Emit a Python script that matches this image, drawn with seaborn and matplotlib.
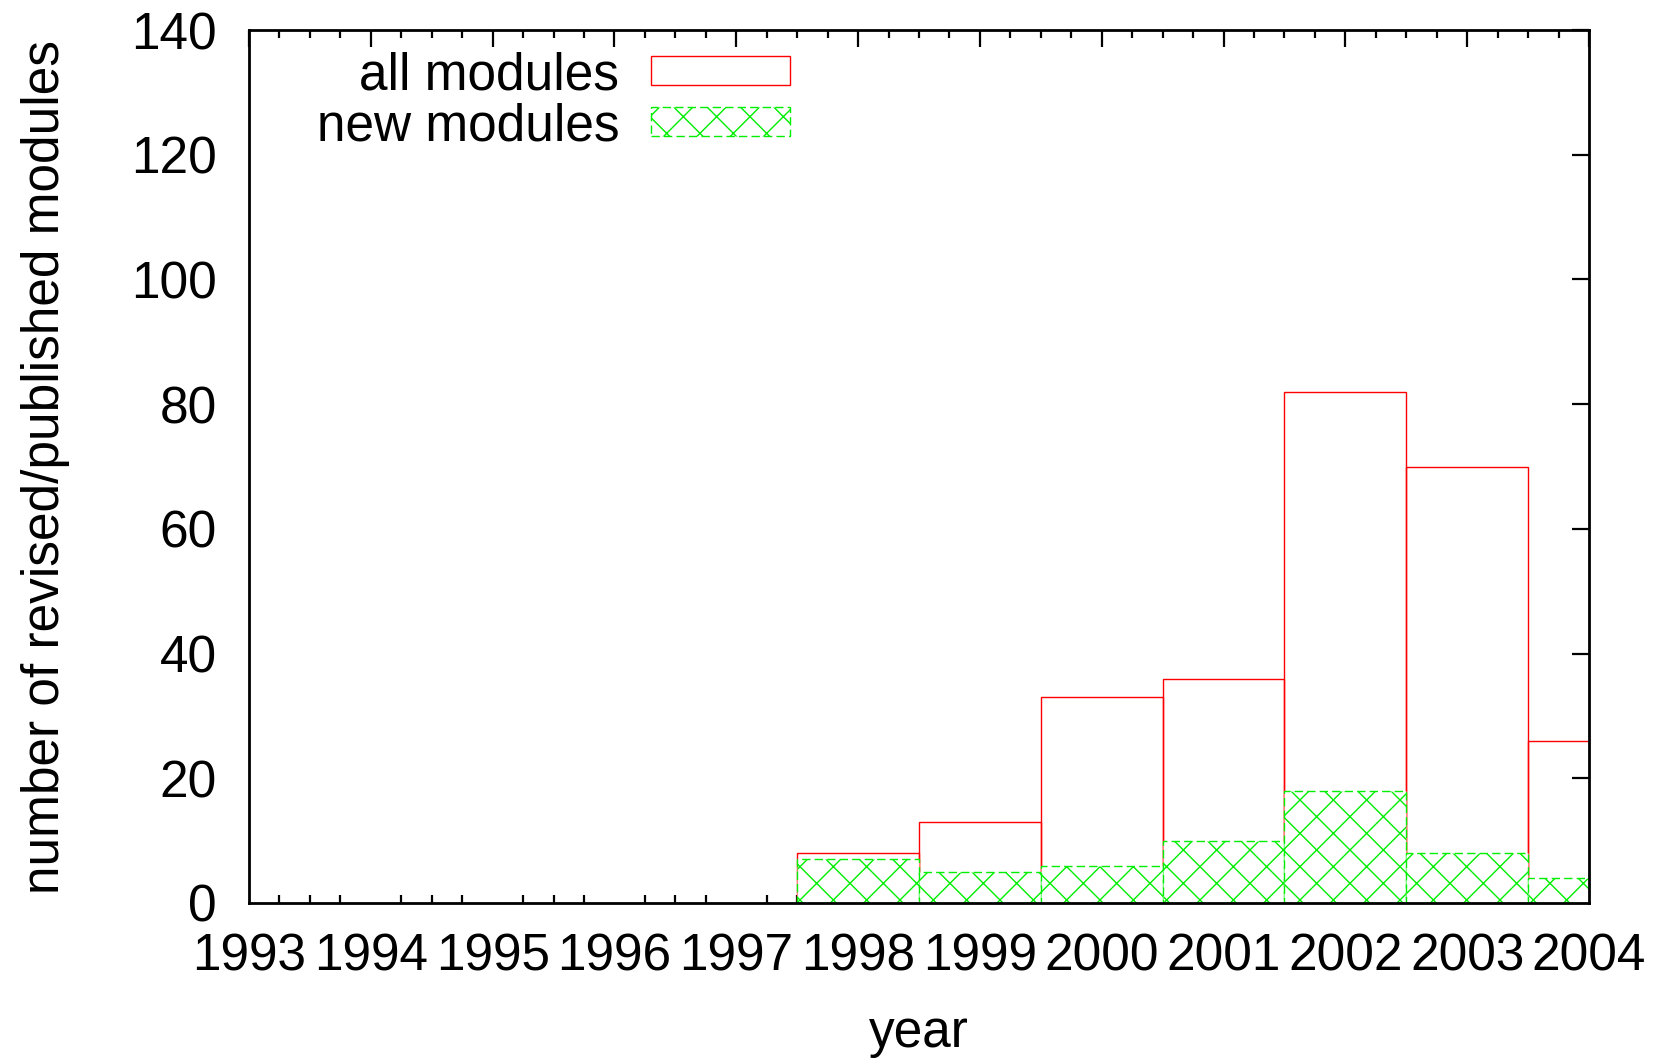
import matplotlib
matplotlib.use("Agg")
import matplotlib.pyplot as plt
from matplotlib.ticker import MultipleLocator
import seaborn as sns
import pandas as pd

years = [1998, 1999, 2000, 2001, 2002, 2003, 2004]
all_modules = [8, 13, 33, 36, 82, 70, 26]
new_modules = [7, 5, 6, 10, 18, 8, 4]
y_ticks = [0, 20, 40, 60, 80, 100, 120, 140]
x_ticks = list(range(1993, 2005))

sns.set_theme(style="white")
plt.rcParams['font.family'] = ['Liberation Sans', 'DejaVu Sans']
plt.rcParams['hatch.linewidth'] = 1.0
plt.rcParams['text.color'] = 'black'
plt.rcParams['axes.labelcolor'] = 'black'
plt.rcParams['xtick.color'] = 'black'
plt.rcParams['ytick.color'] = 'black'

df_all = pd.DataFrame({"year": years, "count": all_modules})
df_new = pd.DataFrame({"year": years, "count": new_modules})

fig = plt.figure(figsize=(16.57, 10.58), dpi=100)
ax = fig.add_axes([249/1657, 1-903/1058, (1589-249)/1657, (903-30)/1058])

sns.barplot(data=df_all, x="year", y="count", native_scale=True, width=1.0,
            errorbar=None, ax=ax, color="red", label="all modules")
n_all = len(ax.patches)
for p in ax.patches[:n_all]:
    p.set_facecolor("none")
    p.set_edgecolor("#ff0000")
    p.set_linewidth(1.0)

sns.barplot(data=df_new, x="year", y="count", native_scale=True, width=1.0,
            errorbar=None, ax=ax, color="#00ff00", label="new modules")
for p in ax.patches[n_all:]:
    p.set_facecolor("white")
    p.set_edgecolor("#00ee00")
    p.set_linewidth(1.0)
    p.set_linestyle((0, (6, 3)))
    p.set_hatch("x")

ax.set_xlim(1993, 2004)
ax.set_ylim(0, 140)
ax.set_xticks(x_ticks)
ax.set_xticklabels([str(x) for x in x_ticks])
ax.xaxis.set_minor_locator(MultipleLocator(0.25))
ax.set_yticks(y_ticks)
ax.set_yticklabels([str(y) for y in y_ticks])

for s in ax.spines.values():
    s.set_visible(True)
    s.set_color("black")
    s.set_linewidth(2.0)

ax.tick_params(axis="both", which="major", direction="in", length=12, width=1.6,
               top=True, right=True, labelsize=37, colors="black", pad=21)
ax.tick_params(axis="x", which="minor", direction="in", length=6, width=1.6,
               top=True, bottom=True)
ax.tick_params(axis="y", which="major", pad=23)

ax.set_xlabel("year", fontsize=37, labelpad=20)
ax.set_ylabel("number of revised/published modules", fontsize=37, labelpad=44)

handles, labels = ax.get_legend_handles_labels()
leg = ax.legend(handles, labels, loc="upper right",
                bbox_to_anchor=(790/1657, 1-51/1058), bbox_transform=fig.transFigure,
                frameon=False, markerfirst=False, fontsize=37,
                handlelength=2.7, handleheight=0.48, handletextpad=0.62,
                labelspacing=0.04, borderpad=0, borderaxespad=0)
for t in leg.get_texts():
    t.set_ha("right")
    t.set_color("black")

fig.savefig("out.png", dpi=100)
